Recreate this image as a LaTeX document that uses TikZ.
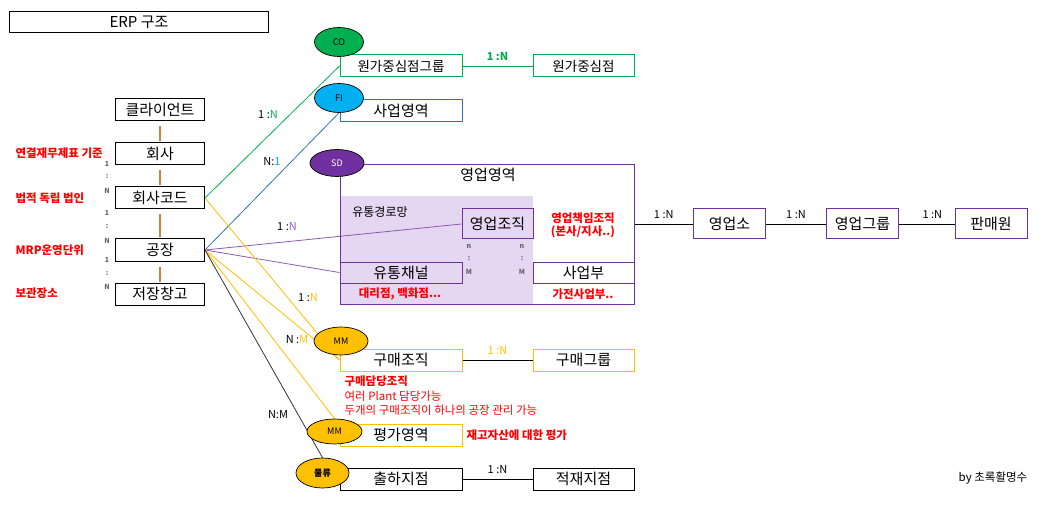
\documentclass[tikz,border=0pt]{standalone}
\usepackage{fontspec}
\setmainfont{Noto Sans CJK KR}
\usetikzlibrary{shapes.geometric,positioning}
\definecolor{cogreen}{RGB}{0,176,80}
\definecolor{fiblue}{RGB}{0,176,240}
\definecolor{fiedge}{RGB}{46,117,182}
\definecolor{sdpurple}{RGB}{112,48,160}
\definecolor{sdlight}{RGB}{150,100,200}
\definecolor{mmgold}{RGB}{255,192,0}
\definecolor{lavender}{RGB}{229,214,241}
\definecolor{linkbrown}{RGB}{200,130,70}
\definecolor{notered}{RGB}{255,0,0}
\pgfdeclarelayer{bg}
\pgfsetlayers{bg,main}

\begin{document}
\begin{tikzpicture}[
  x=1pt, y=-1pt,
  box/.style={draw, line width=1pt, inner sep=0pt, minimum height=22pt, font=\fontsize{15}{15}\selectfont},
  leftbox/.style={box, minimum width=89pt},
  widebox/.style={box, minimum width=122pt},
  midbox/.style={box, minimum width=101pt},
  smallbox/.style={box, minimum width=72pt, minimum height=30pt},
  module/.style={ellipse, draw, line width=0.7pt, inner sep=0pt, minimum width=54pt, minimum height=28pt, font=\fontsize{9}{9}\selectfont},
  note/.style={text=notered, font=\fontsize{11.5}{13}\selectfont\bfseries},
  remark/.style={text=notered, anchor=west, font=\fontsize{11.5}{13}\selectfont},
  card/.style={font=\fontsize{11}{11}\selectfont},
  tick/.style={text=black!60, font=\fontsize{7}{7}\selectfont\bfseries},
  link/.style={line width=0.8pt},
  vlink/.style={draw=linkbrown, line width=1.5pt, shorten <=5pt, shorten >=1pt}
]
\useasboundingbox (0,0) rectangle (1063,513);

% title
\node[box, minimum width=259pt, minimum height=21pt] (title) at (139,22) {ERP 구조};

% org chain on the left
\node[leftbox] (client) at (160,110) {클라이언트};
\node[leftbox] (company) at (160,154) {회사};
\node[leftbox] (ccode) at (160,198) {회사코드};
\node[leftbox] (plant) at (160,250) {공장};
\node[leftbox] (sloc) at (160,294) {저장창고};
\draw[vlink] (client.south) -- (company.north);
\draw[vlink] (company.south) -- (ccode.north);
\draw[vlink] (ccode.south) -- (plant.north);
\draw[vlink] (plant.south) -- (sloc.north);
\foreach \y/\t in {164/1,177/:,191/N,213/1,227/:,241/N,260/1,274/:,287/N}
  \node[tick] (t\y) at (107,\y) {\t};

\node[note, anchor=west] (n1) at (12,153) {연결재무제표 기준};
\node[note, anchor=west] (n2) at (12,198) {법적 독립 법인};
\node[note, anchor=west] (n3) at (12,250) {MRP운영단위};
\node[note, anchor=west] (n4) at (12,293) {보관장소};

% CO / FI
\node[widebox, draw=cogreen, font=\fontsize{13.5}{13.5}\selectfont] (ccgroup) at (401,66) {원가중심점그룹};
\node[midbox, draw=cogreen, font=\fontsize{13.5}{13.5}\selectfont] (cc) at (583.5,66) {원가중심점};
\draw[link, cogreen] (ccgroup) -- node[card, above=2pt, text=cogreen, font=\fontsize{11}{11}\selectfont\bfseries] (l1) {1 :N} (cc);
\node[widebox, draw=fiedge] (bizarea) at (401,110.5) {사업영역};

% SD
\begin{pgfonlayer}{bg}
\node[fill=lavender, inner sep=0pt, minimum width=193pt, minimum height=108pt] (netarea) at (436.5,250) {};
\end{pgfonlayer}
\node[draw=sdpurple, line width=1pt, inner sep=0pt, minimum width=294pt, minimum height=139pt] (salesarea) at (487,234.5) {};
\node[font=\fontsize{15}{15}\selectfont] (satitle) at (488,175) {영업영역};
\node[font=\fontsize{12}{12}\selectfont] (nettitle) at (380,212) {유통경로망};
\node[box, draw=sdpurple, minimum width=71pt, minimum height=30pt] (salesorg) at (497.5,224) {영업조직};
\node[widebox, draw=sdpurple, minimum height=21pt] (channel) at (401,272.5) {유통채널};
\node[midbox, draw=sdpurple, minimum height=21pt] (division) at (583.5,272.5) {사업부};
\foreach \x in {469,522} {
  \node[tick] (ta\x) at (\x,246) {n};
  \node[tick] (tb\x) at (\x,259) {:};
  \node[tick] (tc\x) at (\x,272) {M};
}
\node[note] (n5) at (583,218) {영업책임조직};
\node[note] (n6) at (583,232) {(본사/지사..)};
\node[note] (n7) at (400,294) {대리점, 백화점...};
\node[note] (n8) at (583,294) {가전사업부..};

\node[smallbox, draw=sdpurple] (office) at (729.5,224) {영업소};
\node[smallbox, draw=sdpurple] (group) at (862.5,224) {영업그룹};
\node[smallbox, draw=sdpurple] (rep) at (991,224) {판매원};
\draw[link] (office.west -| salesarea.east) -- node[card, above=2pt] (l2) {1 :N} (office.west);
\draw[link] (office) -- node[card, above=2pt] (l3) {1 :N} (group);
\draw[link] (group) -- node[card, above=2pt, pos=0.6] (l4) {1 :N} (rep);

% MM
\node[widebox, draw=mmgold] (purorg) at (401,360) {구매조직};
\node[midbox, draw=mmgold] (purgroup) at (583.5,360) {구매그룹};
\draw[link] (purorg) -- node[card, above=2pt, text=mmgold] (l5) {1 :N} (purgroup);
\node[remark, font=\fontsize{11.5}{13}\selectfont\bfseries] (n9) at (341,381) {구매담당조직};
\node[remark] (n10) at (341,396) {여러 Plant 담당가능};
\node[remark] (n11) at (341,410) {두개의 구매조직이 하나의 공장 관리 가능};
\node[widebox, draw=mmgold] (valarea) at (401,435) {평가영역};
\node[note, anchor=west] (n12) at (463,435) {재고자산에 대한 평가};

% logistics
\node[widebox] (shippt) at (401,479) {출하지점};
\node[midbox] (loadpt) at (583.5,479) {적재지점};
\draw[link] (shippt) -- node[card, above=2pt] (l6) {1 :N} (loadpt);

% modules
\node[module, fill=cogreen, minimum width=49pt, minimum height=29pt] (co) at (339,42) {CO};
\node[module, fill=fiblue, minimum width=49pt, minimum height=29pt] (fi) at (339,98) {FI};
\node[module, fill=sdpurple, text=white, minimum height=27pt] (sd) at (337,163) {SD};
\node[module, fill=mmgold] (mmpur) at (341,341) {MM};
\node[module, fill=mmgold, minimum width=55pt, minimum height=25pt] (mmval) at (334.5,431.5) {MM};
\node[module, fill=mmgold, minimum width=53pt, minimum height=30pt, font=\fontsize{9}{9}\selectfont\bfseries] (logi) at (322.5,473) {물류};

% links from company code and plant
\begin{pgfonlayer}{bg}
\draw[link, cogreen] (ccode.east) -- (ccgroup.west);
\draw[link, fiedge] (plant.east) -- (fi.south);
\draw[link, sdpurple!80] (plant.east) -- (salesorg.west);
\draw[link, sdpurple!80] (plant.east) -- (channel.west);
\draw[link, mmgold] (ccode.east) -- (purorg.west);
\draw[link, mmgold] (plant.east) -- (purorg.west);
\draw[link, mmgold] (plant.east) -- (mmval.north);
\draw[link, black!80] (plant.east) -- (logi.north);
\end{pgfonlayer}
\node[card] (c1) at (268,115) {1 :\textcolor{cogreen}{N}};
\node[card] (c2) at (272,162) {N:\textcolor{fiblue}{1}};
\node[card] (c3) at (287,227) {1 :\textcolor{sdlight}{N}};
\node[card] (c4) at (308,298) {1 :\textcolor{mmgold}{N}};
\node[card] (c5) at (297,340) {N :\textcolor{mmgold}{M}};
\node[card] (c6) at (278,415) {N:M};

\node[font=\fontsize{11.5}{13}\selectfont] (by) at (993,478) {by 초록활명수};
\end{tikzpicture}
\end{document}
